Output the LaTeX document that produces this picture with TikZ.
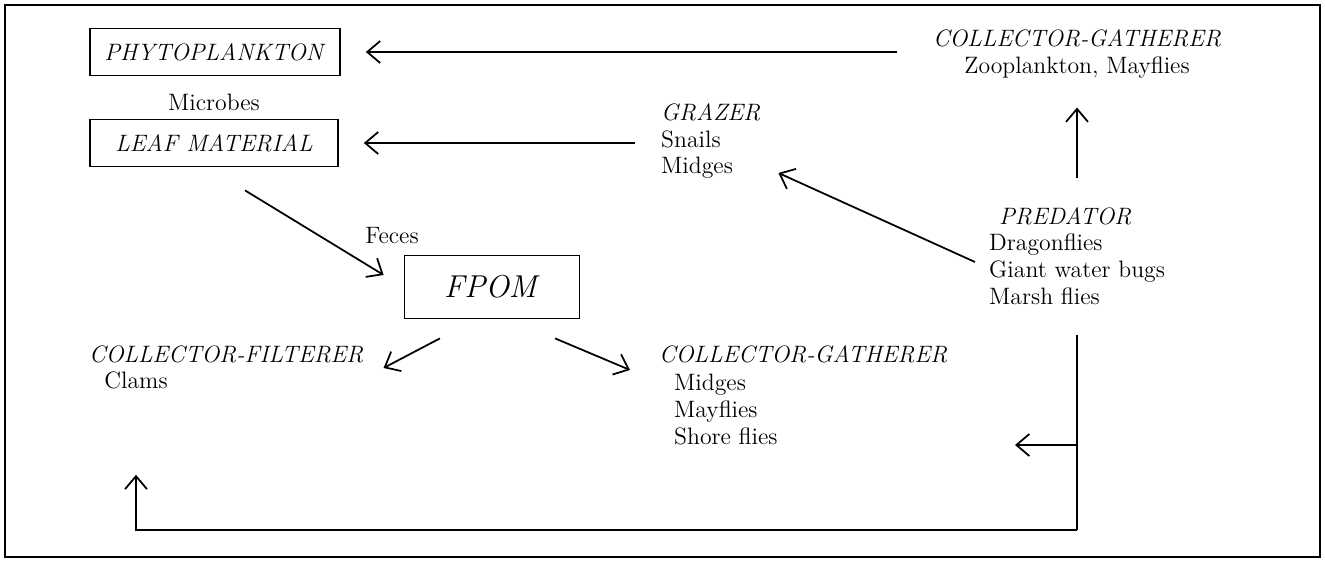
\documentclass[tikz,border=0pt]{standalone}
\usepackage{amsmath,amssymb}
\usepackage{tikz}
\usetikzlibrary{arrows.meta}

\begin{document}
\begin{tikzpicture}[x=0.02cm,y=-0.02cm,
    >={Straight Barb[length=2.6mm,width=4.4mm]},
    every node/.style={font=\fontsize{13.5}{15.3}\selectfont},
    box/.style={draw,line width=1pt,minimum height=0.94cm},
    flow/.style={->,line width=1pt}]
    \useasboundingbox (0,0) rectangle (1325,563);
    \draw[line width=1.1pt] (5,5) rectangle (1320,557);
    \node (phyto) [box,minimum width=5cm] at (215,52) {\textit{PHYTOPLANKTON}};
    \node (cgtop) [align=center] at (1077,54) {\textit{COLLECTOR-GATHERER}\\Zooplankton, Mayflies};
    \node (leaf) [box,minimum width=4.96cm] at (214,143) {\textit{LEAF MATERIAL}};
    \node (microbes) [above of=leaf,node distance=0.82cm] {Microbes};
    \node (grazer) [align=left,anchor=west] at (655,141) {\textit{GRAZER}\\Snails\\Midges};
    \node (predator) [align=left,anchor=west] at (983,256) {\hspace*{0.2cm}\textit{PREDATOR}\\Dragonflies\\Giant water bugs\\Marsh flies};
    \node (feces) at (392,236) {Feces};
    \node (fpom) [box,minimum width=3.5cm,minimum height=1.26cm,font=\fontsize{18}{20}\selectfont] at (492,287) {\textit{FPOM}};
    \node (filterer) [anchor=west] at (83,354) {\textit{COLLECTOR-FILTERER}};
    \node (clams) at (136,380) {Clams};
    \node (gatherer) [anchor=west] at (653,354) {\textit{COLLECTOR-GATHERER}};
    \node (gatherlist) [align=left,anchor=north west] at (668,368) {Midges\\Mayflies\\Shore flies};
    % return path from the predators
    \coordinate (drop) at (1077,335);
    \coordinate (split) at (1077,445);
    \coordinate (corner) at (1077,530);
    \draw[flow,shorten >=0.5cm] ([xshift=-0.6cm]cgtop.west |- phyto) -- (phyto);
    \draw[flow,shorten >=0.5cm] ([xshift=-0.4cm]grazer.west |- leaf) -- (leaf);
    \draw[flow] ([shift={(-8,6)}]predator.west) -- ([shift={(12,-12)}]grazer.south east);
    \draw[flow,shorten <=0.46cm,shorten >=0.46cm] (predator.north -| cgtop.south) -- (cgtop.south);
    \draw[flow] ([shift={(31,23)}]leaf.south) -- ([shift={(-20,-12)}]fpom.west);
    \draw[flow] ([shift={(-52,19)}]fpom.south) -- ([shift={(14,14)}]filterer.east);
    \draw[flow] ([shift={(63,19)}]fpom.south) -- ([shift={(-23,16)}]gatherer.west);
    \draw[line width=1pt] (drop) -- (corner);
    \draw[flow] (split) -- ++(-62,0) coordinate (gtip);
    \draw[flow,shorten >=1.6cm] (corner) -| (clams.south);
  \end{tikzpicture}
\end{document}
